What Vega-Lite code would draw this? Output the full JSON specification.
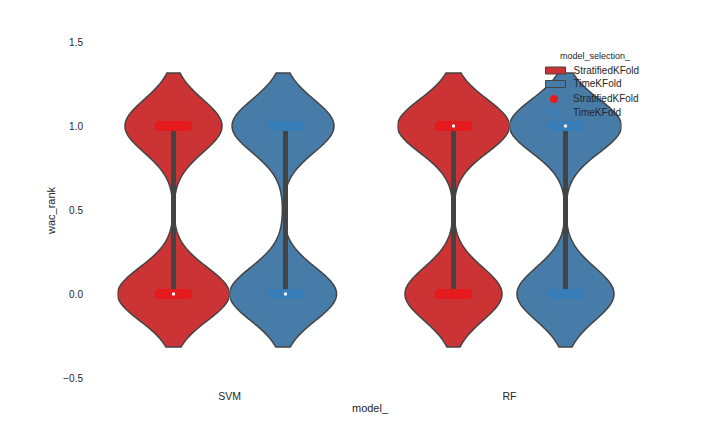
{
  "$schema": "https://vega.github.io/schema/vega-lite/v6.json",
  "autosize": {"type": "pad"},
  "padding": {"top": 37, "left": 45.5, "right": 5, "bottom": 5},
  "background": "white",
  "data": {"values": [
    {"model_":"SVM","model_selection_":"StratifiedKFold","wac_rank":0},{"model_":"SVM","model_selection_":"StratifiedKFold","wac_rank":0},{"model_":"SVM","model_selection_":"StratifiedKFold","wac_rank":0},{"model_":"SVM","model_selection_":"StratifiedKFold","wac_rank":0},{"model_":"SVM","model_selection_":"StratifiedKFold","wac_rank":0},
    {"model_":"SVM","model_selection_":"StratifiedKFold","wac_rank":0},{"model_":"SVM","model_selection_":"StratifiedKFold","wac_rank":0},{"model_":"SVM","model_selection_":"StratifiedKFold","wac_rank":0},{"model_":"SVM","model_selection_":"StratifiedKFold","wac_rank":0},{"model_":"SVM","model_selection_":"StratifiedKFold","wac_rank":0},
    {"model_":"SVM","model_selection_":"StratifiedKFold","wac_rank":0},{"model_":"SVM","model_selection_":"StratifiedKFold","wac_rank":0},{"model_":"SVM","model_selection_":"StratifiedKFold","wac_rank":0},{"model_":"SVM","model_selection_":"StratifiedKFold","wac_rank":0},{"model_":"SVM","model_selection_":"StratifiedKFold","wac_rank":0},
    {"model_":"SVM","model_selection_":"StratifiedKFold","wac_rank":1},{"model_":"SVM","model_selection_":"StratifiedKFold","wac_rank":1},{"model_":"SVM","model_selection_":"StratifiedKFold","wac_rank":1},{"model_":"SVM","model_selection_":"StratifiedKFold","wac_rank":1},{"model_":"SVM","model_selection_":"StratifiedKFold","wac_rank":1},
    {"model_":"SVM","model_selection_":"StratifiedKFold","wac_rank":1},{"model_":"SVM","model_selection_":"StratifiedKFold","wac_rank":1},{"model_":"SVM","model_selection_":"StratifiedKFold","wac_rank":1},{"model_":"SVM","model_selection_":"StratifiedKFold","wac_rank":1},{"model_":"SVM","model_selection_":"StratifiedKFold","wac_rank":1},
    {"model_":"SVM","model_selection_":"StratifiedKFold","wac_rank":1},{"model_":"SVM","model_selection_":"StratifiedKFold","wac_rank":1},{"model_":"SVM","model_selection_":"StratifiedKFold","wac_rank":1},
    {"model_":"SVM","model_selection_":"TimeKFold","wac_rank":0},{"model_":"SVM","model_selection_":"TimeKFold","wac_rank":0},{"model_":"SVM","model_selection_":"TimeKFold","wac_rank":0},{"model_":"SVM","model_selection_":"TimeKFold","wac_rank":0},{"model_":"SVM","model_selection_":"TimeKFold","wac_rank":0},
    {"model_":"SVM","model_selection_":"TimeKFold","wac_rank":0},{"model_":"SVM","model_selection_":"TimeKFold","wac_rank":0},{"model_":"SVM","model_selection_":"TimeKFold","wac_rank":0},{"model_":"SVM","model_selection_":"TimeKFold","wac_rank":0},{"model_":"SVM","model_selection_":"TimeKFold","wac_rank":0},
    {"model_":"SVM","model_selection_":"TimeKFold","wac_rank":0},{"model_":"SVM","model_selection_":"TimeKFold","wac_rank":0},{"model_":"SVM","model_selection_":"TimeKFold","wac_rank":0},{"model_":"SVM","model_selection_":"TimeKFold","wac_rank":0},{"model_":"SVM","model_selection_":"TimeKFold","wac_rank":0},
    {"model_":"SVM","model_selection_":"TimeKFold","wac_rank":0},{"model_":"SVM","model_selection_":"TimeKFold","wac_rank":0},{"model_":"SVM","model_selection_":"TimeKFold","wac_rank":0},{"model_":"SVM","model_selection_":"TimeKFold","wac_rank":0},{"model_":"SVM","model_selection_":"TimeKFold","wac_rank":0},
    {"model_":"SVM","model_selection_":"TimeKFold","wac_rank":0},
    {"model_":"SVM","model_selection_":"TimeKFold","wac_rank":1},{"model_":"SVM","model_selection_":"TimeKFold","wac_rank":1},{"model_":"SVM","model_selection_":"TimeKFold","wac_rank":1},{"model_":"SVM","model_selection_":"TimeKFold","wac_rank":1},{"model_":"SVM","model_selection_":"TimeKFold","wac_rank":1},
    {"model_":"SVM","model_selection_":"TimeKFold","wac_rank":1},{"model_":"SVM","model_selection_":"TimeKFold","wac_rank":1},{"model_":"SVM","model_selection_":"TimeKFold","wac_rank":1},{"model_":"SVM","model_selection_":"TimeKFold","wac_rank":1},{"model_":"SVM","model_selection_":"TimeKFold","wac_rank":1},
    {"model_":"SVM","model_selection_":"TimeKFold","wac_rank":1},{"model_":"SVM","model_selection_":"TimeKFold","wac_rank":1},{"model_":"SVM","model_selection_":"TimeKFold","wac_rank":1},{"model_":"SVM","model_selection_":"TimeKFold","wac_rank":1},{"model_":"SVM","model_selection_":"TimeKFold","wac_rank":1},
    {"model_":"SVM","model_selection_":"TimeKFold","wac_rank":1},{"model_":"SVM","model_selection_":"TimeKFold","wac_rank":1},{"model_":"SVM","model_selection_":"TimeKFold","wac_rank":1},{"model_":"SVM","model_selection_":"TimeKFold","wac_rank":1},{"model_":"SVM","model_selection_":"TimeKFold","wac_rank":1},
    {"model_":"RF","model_selection_":"StratifiedKFold","wac_rank":0},{"model_":"RF","model_selection_":"StratifiedKFold","wac_rank":0},{"model_":"RF","model_selection_":"StratifiedKFold","wac_rank":0},{"model_":"RF","model_selection_":"StratifiedKFold","wac_rank":0},{"model_":"RF","model_selection_":"StratifiedKFold","wac_rank":0},
    {"model_":"RF","model_selection_":"StratifiedKFold","wac_rank":0},{"model_":"RF","model_selection_":"StratifiedKFold","wac_rank":0},{"model_":"RF","model_selection_":"StratifiedKFold","wac_rank":0},{"model_":"RF","model_selection_":"StratifiedKFold","wac_rank":0},{"model_":"RF","model_selection_":"StratifiedKFold","wac_rank":0},
    {"model_":"RF","model_selection_":"StratifiedKFold","wac_rank":0},{"model_":"RF","model_selection_":"StratifiedKFold","wac_rank":0},{"model_":"RF","model_selection_":"StratifiedKFold","wac_rank":0},
    {"model_":"RF","model_selection_":"StratifiedKFold","wac_rank":1},{"model_":"RF","model_selection_":"StratifiedKFold","wac_rank":1},{"model_":"RF","model_selection_":"StratifiedKFold","wac_rank":1},{"model_":"RF","model_selection_":"StratifiedKFold","wac_rank":1},{"model_":"RF","model_selection_":"StratifiedKFold","wac_rank":1},
    {"model_":"RF","model_selection_":"StratifiedKFold","wac_rank":1},{"model_":"RF","model_selection_":"StratifiedKFold","wac_rank":1},{"model_":"RF","model_selection_":"StratifiedKFold","wac_rank":1},{"model_":"RF","model_selection_":"StratifiedKFold","wac_rank":1},{"model_":"RF","model_selection_":"StratifiedKFold","wac_rank":1},
    {"model_":"RF","model_selection_":"StratifiedKFold","wac_rank":1},{"model_":"RF","model_selection_":"StratifiedKFold","wac_rank":1},{"model_":"RF","model_selection_":"StratifiedKFold","wac_rank":1},{"model_":"RF","model_selection_":"StratifiedKFold","wac_rank":1},{"model_":"RF","model_selection_":"StratifiedKFold","wac_rank":1},
    {"model_":"RF","model_selection_":"TimeKFold","wac_rank":0},{"model_":"RF","model_selection_":"TimeKFold","wac_rank":0},{"model_":"RF","model_selection_":"TimeKFold","wac_rank":0},{"model_":"RF","model_selection_":"TimeKFold","wac_rank":0},{"model_":"RF","model_selection_":"TimeKFold","wac_rank":0},
    {"model_":"RF","model_selection_":"TimeKFold","wac_rank":0},{"model_":"RF","model_selection_":"TimeKFold","wac_rank":0},{"model_":"RF","model_selection_":"TimeKFold","wac_rank":0},{"model_":"RF","model_selection_":"TimeKFold","wac_rank":0},{"model_":"RF","model_selection_":"TimeKFold","wac_rank":0},
    {"model_":"RF","model_selection_":"TimeKFold","wac_rank":0},{"model_":"RF","model_selection_":"TimeKFold","wac_rank":0},{"model_":"RF","model_selection_":"TimeKFold","wac_rank":0},
    {"model_":"RF","model_selection_":"TimeKFold","wac_rank":1},{"model_":"RF","model_selection_":"TimeKFold","wac_rank":1},{"model_":"RF","model_selection_":"TimeKFold","wac_rank":1},{"model_":"RF","model_selection_":"TimeKFold","wac_rank":1},{"model_":"RF","model_selection_":"TimeKFold","wac_rank":1},
    {"model_":"RF","model_selection_":"TimeKFold","wac_rank":1},{"model_":"RF","model_selection_":"TimeKFold","wac_rank":1},{"model_":"RF","model_selection_":"TimeKFold","wac_rank":1},{"model_":"RF","model_selection_":"TimeKFold","wac_rank":1},{"model_":"RF","model_selection_":"TimeKFold","wac_rank":1},
    {"model_":"RF","model_selection_":"TimeKFold","wac_rank":1},{"model_":"RF","model_selection_":"TimeKFold","wac_rank":1},{"model_":"RF","model_selection_":"TimeKFold","wac_rank":1},{"model_":"RF","model_selection_":"TimeKFold","wac_rank":1},{"model_":"RF","model_selection_":"TimeKFold","wac_rank":1}
  ]},
  "title": {"text": "model_", "orient": "bottom", "anchor": "middle", "frame": "group", "dx": 252.5, "fontSize": 11, "fontWeight": "normal", "color": "#262626", "offset": 0},
  "spacing": 56,
  "resolve": {"scale": {"x": "shared", "y": "shared", "color": "shared", "fill": "shared"}},
  "hconcat": [
    {
      "transform": [{"filter": "datum.model_ === 'SVM'"}],
      "facet": {"column": {"field": "model_selection_", "type": "nominal", "title": "SVM",
        "header": {"labels": false, "titleOrient": "bottom", "titleFontSize": 10.5, "titleFontWeight": "normal", "titleColor": "#262626", "titlePadding": 4}}},
      "spacing": 0,
      "spec": {
        "width": 112, "height": 336,
        "layer": [
          {
            "transform": [{"density": "wac_rank", "groupby": ["model_", "model_selection_"], "bandwidth": 0.158, "extent": [-0.316, 1.316], "steps": 200}],
            "mark": {"type": "area", "orient": "horizontal", "stroke": "#444444", "strokeWidth": 1.5, "opacity": 1, "clip": true},
            "encoding": {
              "y": {"field": "value", "type": "quantitative", "scale": {"domain": [-0.5, 1.5], "nice": false, "zero": false},
                "axis": {"title": "wac_rank", "values": [-0.5, 0, 0.5, 1, 1.5], "format": ".1f", "grid": false, "ticks": false, "domain": false, "labelFontSize": 10, "labelColor": "#262626", "titleFontSize": 11, "titleFontWeight": "normal", "titleColor": "#262626", "offset": 28, "labelPadding": 7, "titlePadding": 6}},
              "x": {"field": "density", "type": "quantitative", "stack": "center", "impute": null, "scale": {"domain": [0, 1.3527], "nice": false, "zero": false}, "axis": null},
              "color": {"field": "model_selection_", "type": "nominal", "scale": {"domain": ["StratifiedKFold", "TimeKFold"], "range": ["#cb3335", "#477ca8"]},
                "legend": {"title": "model_selection_", "orient": "none", "legendX": 432.5, "legendY": 10, "titleFontSize": 9, "titleFontWeight": "normal", "titleColor": "#262626", "titleAnchor": "middle", "titlePadding": 4, "labelFontSize": 10, "labelColor": "#262626", "labelOffset": 12.5, "rowPadding": 2.5, "symbolType": "M -2 -0.7 L 2 -0.7 L 2 0.7 L -2 0.7 Z", "symbolSize": 100, "symbolStrokeColor": "#444444", "symbolStrokeWidth": 1}}
            }
          },
          {
            "mark": {"type": "rule", "color": "#444444", "strokeWidth": 5},
            "encoding": {
              "x": {"datum": 0.67635, "type": "quantitative", "scale": {"domain": [0, 1.3527], "nice": false, "zero": false}, "axis": null},
              "y": {"aggregate": "q1", "field": "wac_rank", "type": "quantitative", "scale": {"domain": [-0.5, 1.5], "nice": false, "zero": false},
                "axis": {"title": "wac_rank", "values": [-0.5, 0, 0.5, 1, 1.5], "format": ".1f", "grid": false, "ticks": false, "domain": false, "labelFontSize": 10, "labelColor": "#262626", "titleFontSize": 11, "titleFontWeight": "normal", "titleColor": "#262626", "offset": 28, "labelPadding": 7, "titlePadding": 6}},
              "y2": {"aggregate": "q3", "field": "wac_rank"}
            }
          },
          {
            "mark": {"type": "point", "shape": "M -0.73 -0.27 L 0.73 -0.27 A 0.27 0.27 0 0 1 0.73 0.27 L -0.73 0.27 A 0.27 0.27 0 0 1 -0.73 -0.27 Z", "size": 1369, "filled": true, "opacity": 1, "strokeWidth": 0},
            "encoding": {
              "x": {"datum": 0.67635, "type": "quantitative", "scale": {"domain": [0, 1.3527], "nice": false, "zero": false}, "axis": null},
              "y": {"field": "wac_rank", "type": "quantitative", "scale": {"domain": [-0.5, 1.5], "nice": false, "zero": false},
                "axis": {"title": "wac_rank", "values": [-0.5, 0, 0.5, 1, 1.5], "format": ".1f", "grid": false, "ticks": false, "domain": false, "labelFontSize": 10, "labelColor": "#262626", "titleFontSize": 11, "titleFontWeight": "normal", "titleColor": "#262626", "offset": 28, "labelPadding": 7, "titlePadding": 6}},
              "fill": {"field": "model_selection_", "type": "nominal", "scale": {"range": ["#e41a1c", "#377eb8"]},
                "legend": {"title": null, "orient": "none", "legendX": 431.5, "legendY": 52, "labelFontSize": 10, "labelColor": "#262626", "labelOffset": 14, "rowPadding": 3.5, "symbolType": "circle", "symbolSize": 64, "symbolStrokeWidth": 0,
                  "encode": {"symbols": {"update": {"shape": {"value": "circle"}}}}}}
            }
          },
          {
            "mark": {"type": "point", "filled": true, "fill": "white", "size": 12, "opacity": 1, "strokeWidth": 0},
            "encoding": {
              "x": {"datum": 0.67635, "type": "quantitative", "scale": {"domain": [0, 1.3527], "nice": false, "zero": false}, "axis": null},
              "y": {"aggregate": "median", "field": "wac_rank", "type": "quantitative", "scale": {"domain": [-0.5, 1.5], "nice": false, "zero": false},
                "axis": {"title": "wac_rank", "values": [-0.5, 0, 0.5, 1, 1.5], "format": ".1f", "grid": false, "ticks": false, "domain": false, "labelFontSize": 10, "labelColor": "#262626", "titleFontSize": 11, "titleFontWeight": "normal", "titleColor": "#262626", "offset": 28, "labelPadding": 7, "titlePadding": 6}}
            }
          }
        ]
      }
    },
    {
      "transform": [{"filter": "datum.model_ === 'RF'"}],
      "facet": {"column": {"field": "model_selection_", "type": "nominal", "title": "RF",
        "header": {"labels": false, "titleOrient": "bottom", "titleFontSize": 10.5, "titleFontWeight": "normal", "titleColor": "#262626", "titlePadding": 4}}},
      "spacing": 0,
      "spec": {
        "width": 112, "height": 336,
        "layer": [
          {
            "transform": [{"density": "wac_rank", "groupby": ["model_", "model_selection_"], "bandwidth": 0.158, "extent": [-0.316, 1.316], "steps": 200}],
            "mark": {"type": "area", "orient": "horizontal", "stroke": "#444444", "strokeWidth": 1.5, "opacity": 1, "clip": true},
            "encoding": {
              "y": {"field": "value", "type": "quantitative", "scale": {"domain": [-0.5, 1.5], "nice": false, "zero": false}, "axis": null},
              "x": {"field": "density", "type": "quantitative", "stack": "center", "impute": null, "scale": {"domain": [0, 1.3527], "nice": false, "zero": false}, "axis": null},
              "color": {"field": "model_selection_", "type": "nominal", "scale": {"domain": ["StratifiedKFold", "TimeKFold"], "range": ["#cb3335", "#477ca8"]}}
            }
          },
          {
            "mark": {"type": "rule", "color": "#444444", "strokeWidth": 5},
            "encoding": {
              "x": {"datum": 0.67635, "type": "quantitative", "scale": {"domain": [0, 1.3527], "nice": false, "zero": false}, "axis": null},
              "y": {"aggregate": "q1", "field": "wac_rank", "type": "quantitative", "scale": {"domain": [-0.5, 1.5], "nice": false, "zero": false}, "axis": null},
              "y2": {"aggregate": "q3", "field": "wac_rank"}
            }
          },
          {
            "mark": {"type": "point", "shape": "M -0.73 -0.27 L 0.73 -0.27 A 0.27 0.27 0 0 1 0.73 0.27 L -0.73 0.27 A 0.27 0.27 0 0 1 -0.73 -0.27 Z", "size": 1369, "filled": true, "opacity": 1, "strokeWidth": 0},
            "encoding": {
              "x": {"datum": 0.67635, "type": "quantitative", "scale": {"domain": [0, 1.3527], "nice": false, "zero": false}, "axis": null},
              "y": {"field": "wac_rank", "type": "quantitative", "scale": {"domain": [-0.5, 1.5], "nice": false, "zero": false}, "axis": null},
              "fill": {"field": "model_selection_", "type": "nominal", "scale": {"range": ["#e41a1c", "#377eb8"]}}
            }
          },
          {
            "mark": {"type": "point", "filled": true, "fill": "white", "size": 12, "opacity": 1, "strokeWidth": 0},
            "encoding": {
              "x": {"datum": 0.67635, "type": "quantitative", "scale": {"domain": [0, 1.3527], "nice": false, "zero": false}, "axis": null},
              "y": {"aggregate": "median", "field": "wac_rank", "type": "quantitative", "scale": {"domain": [-0.5, 1.5], "nice": false, "zero": false}, "axis": null}
            }
          }
        ]
      }
    }
  ],
  "config": {
    "font": "Liberation Sans",
    "view": {"stroke": null},
    "axis": {"grid": false}
  }
}
